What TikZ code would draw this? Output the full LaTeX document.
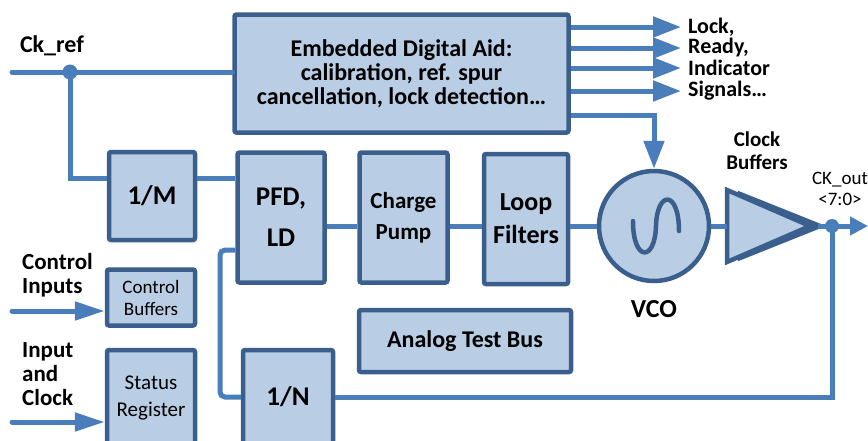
\documentclass[tikz,border=0pt]{standalone}
\usepackage{fontspec}
\setmainfont{Carlito}
\usetikzlibrary{arrows.meta,calc}
\definecolor{boxfill}{HTML}{B9CDE5}
\definecolor{boxline}{HTML}{3A5F8C}
\definecolor{wirec}{HTML}{4A7EBB}
\tikzset{
  blk/.style={draw=boxline, fill=boxfill, line width=4.5pt, rounded corners=2pt, align=center, inner sep=0pt, font=\bfseries},
  wire/.style={draw=wirec, line width=5pt},
  sig/.style={wire, -{Triangle[length=28pt,width=20pt]}},
  lbl/.style={font=\bfseries, inner sep=0pt},
  jdot/.style={circle, fill=wirec, minimum size=15pt, inner sep=0pt}
}
\newcommand{\fs}[2]{\fontsize{#1}{#2}\selectfont}
\begin{document}
\begin{tikzpicture}[x=1pt,y=-1pt]
\useasboundingbox (0,0) rectangle (868,440);
\clip (0,0) rectangle (868,440);
% blocks
\node[blk, minimum width=334pt, minimum height=118pt, font=\bfseries\fs{24}{24}] (emb) at (401.5,73.5)
  {Embedded Digital Aid:\\calibration, ref. spur\\cancellation, lock detection\ldots};
\node[blk, minimum width=86pt, minimum height=88pt, font=\bfseries\fs{27}{28}] (m) at (152,196) {1/M};
\node[blk, minimum width=87pt, minimum height=130pt, font=\bfseries\fs{27}{41}] (pfd) at (281,217.5) {PFD,\\LD};
\node[blk, minimum width=88pt, minimum height=130pt, font=\bfseries\fs{23}{31}] (cp) at (403.5,217.5) {Charge\\Pump};
\node[blk, minimum width=84pt, minimum height=130pt, font=\bfseries\fs{26}{33}] (lf) at (526,219) {Loop\\Filters};
\node[blk, circle, minimum size=110pt, rounded corners=0pt] (vco) at (654,226) {};
\node[blk, minimum width=212pt, minimum height=62pt, font=\bfseries\fs{24}{28}] (atb) at (465,341) {Analog Test Bus};
\node[blk, minimum width=88pt, minimum height=56pt, font=\fs{19}{22}] (cb) at (151,297.5) {Control\\Buffers};
\node[blk, minimum width=88pt, minimum height=96pt, font=\fs{21}{27}] (sr) at (151,398) {Status\\Register};
\node[blk, minimum width=90pt, minimum height=94pt, font=\bfseries\fs{27}{30}] (n) at (288,397) {1/N};
% sine in VCO
\draw[boxline, line width=4.5pt, line cap=round] (633,221) .. controls (633,262) and (655,262) .. (656,226) .. controls (657,190) and (679,190) .. (679,231);
% clock buffer triangles
\draw[boxline, line width=4.5pt, fill=boxfill, line join=miter] (740,194) -- (820,226) -- (740,258) -- cycle;
\draw[boxline, line width=4.5pt, fill=boxfill, line join=miter] (727,190) -- (810,226) -- (727,262) -- cycle;
\coordinate (buf) at (727,226);
\coordinate (buftip) at (818,226);
% labels
\node[lbl, font=\bfseries\fs{24}{24}] (ck) at (52,46) {Ck\_ref};
\node[lbl, anchor=west, align=left, font=\bfseries\fs{23}{24}] (ci) at (22,275) {Control\\Inputs};
\node[lbl, anchor=west, align=left, font=\bfseries\fs{23}{24}] (ic) at (22,374) {Input\\and\\Clock};
\node[lbl, font=\bfseries\fs{26}{26}] (vcol) at (654,309) {VCO};
\node[lbl, align=center, font=\bfseries\fs{21}{23}] (cbl) at (757,151) {Clock\\Buffers};
\node[lbl, align=center, font=\fs{19}{21}] (ckout) at (840,189) {CK\_out\\<7:0>};
\node[lbl, anchor=west, font=\bfseries\fs{22}{22}] (l1) at (688,27) {Lock,};
\node[lbl, anchor=west, font=\bfseries\fs{22}{22}] (l2) at (688,48) {Ready,};
\node[lbl, anchor=west, font=\bfseries\fs{22}{22}] (l3) at (688,68) {Indicator};
\node[lbl, anchor=west, font=\bfseries\fs{22}{22}] (l4) at (688,91) {Signals\ldots};
% wires
\coordinate (ckin) at (12,72);
\node[jdot] (ckd) at (70,72) {};
\draw[wire, line cap=round] (ckin) -- (ckin -| emb.west);
\draw[wire] (ckd.center) |- ([yshift=18pt]m.west);
\draw[wire] ([yshift=18pt]m.east) -- ([yshift=18pt]m.east -| pfd.west);
\draw[wire] (pfd.east |- vco.center) -- (cp.west |- vco.center);
\draw[wire] (cp.east |- vco.center) -- (lf.west |- vco.center);
\draw[wire] (lf.east |- vco.center) -- (vco.west);
\draw[wire] (vco.east) -- (buf);
\node[jdot, minimum size=14pt] (od) at (832,226) {};
\coordinate (oend) at (868,226);
\draw[wire] (buftip) -- (od.center);
\draw[wire, -{Triangle[length=18pt,width=18pt]}] (od.center) -- (oend);
\draw[wire] (od.center) |- (n.east);
\coordinate (fbl) at (220,250);
\draw[wire, rounded corners=5pt] (n.west) -| (fbl) -- (fbl -| pfd.west);
\foreach \t in {l1,l2,l3,l4}
  \draw[sig, shorten >=7pt] (emb.east |- \t.west) -- (\t.west);
\draw[wire, -{Triangle[length=28pt,width=20pt]}] ([yshift=-41.5pt]emb.east) -| (vco.north);
\coordinate (cin) at (12,311);
\coordinate (iin) at (12,422);
\draw[wire, line cap=round, -{Triangle[length=30pt,width=18pt]}] (cin) -- (cin -| cb.west);
\draw[wire, line cap=round, -{Triangle[length=30pt,width=18pt]}] (iin) -- (iin -| sr.west);
\end{tikzpicture}
\end{document}
